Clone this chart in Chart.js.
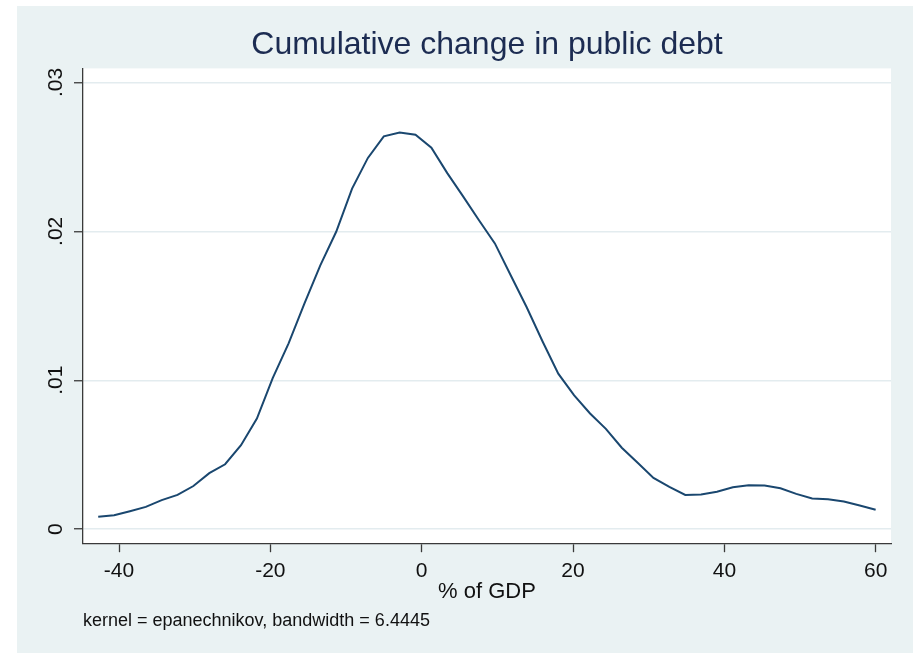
<!DOCTYPE html>
<html>
<head>
<meta charset="utf-8">
<script src="https://cdn.jsdelivr.net/npm/chart.js@4"></script>
<style>
  html, body { margin: 0; padding: 0; background: #ffffff; }
  #wrap { width: 913px; height: 653px; position: relative; }
</style>
</head>
<body>
<div id="wrap"><canvas id="c" width="913" height="653"></canvas></div>
<script>
// ---- data ----
const titleText = 'Cumulative change in public debt';
const xAxisTitle = '% of GDP';
const noteText = 'kernel = epanechnikov, bandwidth = 6.4445';

const gdpChange = [
  -42.75, -40.65, -38.56, -36.46, -34.36, -32.27, -30.17, -28.07, -25.98, -23.88,
  -21.78, -19.69, -17.59, -15.49, -13.40, -11.30, -9.20, -7.11, -5.01, -2.91,
  -0.82, 1.28, 3.38, 5.47, 7.57, 9.67, 11.76, 13.86, 15.96, 18.05,
  20.15, 22.25, 24.34, 26.44, 28.54, 30.63, 32.73, 34.83, 36.92, 39.02,
  41.12, 43.21, 45.31, 47.41, 49.50, 51.60, 53.70, 55.79, 57.89, 59.99
];
const density = [
  0.00083, 0.00094, 0.00121, 0.00150, 0.00195, 0.00230, 0.00290, 0.00376, 0.00436, 0.00564,
  0.00743, 0.01015, 0.01248, 0.01517, 0.01772, 0.01997, 0.02287, 0.02493, 0.02638, 0.02664,
  0.02649, 0.02562, 0.02391, 0.02235, 0.02074, 0.01919, 0.01705, 0.01492, 0.01262, 0.01044,
  0.00899, 0.00777, 0.00674, 0.00547, 0.00446, 0.00344, 0.00284, 0.00230, 0.00233, 0.00252,
  0.00282, 0.00295, 0.00293, 0.00275, 0.00237, 0.00206, 0.00201, 0.00186, 0.00159, 0.00130
];
const xTickValues = [-40, -20, 0, 20, 40, 60];
const yTickValues = [0, 0.01, 0.02, 0.03];
const yTickLabels = ['0', '.01', '.02', '.03'];

// ---- styling ----
const FONT = '"Liberation Sans", Arial, Helvetica, sans-serif';
const BG = '#eaf2f3';
const GRID = '#e3ecef';
const AXIS = '#3a3a3a';
const LINE = '#1a476f';

const bgPlugin = {
  id: 'bg',
  beforeDraw(chart) {
    const ctx = chart.ctx;
    const a = chart.chartArea;
    ctx.save();
    ctx.fillStyle = '#ffffff';
    ctx.fillRect(0, 0, chart.width, chart.height);
    ctx.fillStyle = BG;
    ctx.fillRect(17, 6, chart.width - 17, chart.height - 6);
    ctx.fillStyle = '#ffffff';
    ctx.fillRect(a.left, a.top, a.right - a.left, a.bottom - a.top);
    ctx.restore();
  }
};

const points = gdpChange.map((x, i) => ({ x: x, y: density[i] }));

new Chart(document.getElementById('c'), {
  type: 'line',
  data: {
    datasets: [{
      data: points,
      borderColor: LINE,
      borderWidth: 2,
      pointRadius: 0,
      tension: 0,
      fill: false
    }]
  },
  options: {
    responsive: false,
    animation: false,
    layout: { padding: { left: 83, right: 22, top: 6, bottom: 0 } },
    plugins: {
      legend: { display: false },
      tooltip: { enabled: false },
      title: {
        display: true,
        text: titleText,
        color: '#1c2c52',
        font: { family: FONT, size: 32, weight: 'normal' },
        padding: { top: 20, bottom: 4 }
      },
      subtitle: {
        display: true,
        position: 'bottom',
        align: 'start',
        text: noteText,
        color: '#111111',
        font: { family: FONT, size: 18, weight: 'normal' },
        padding: { top: 0, bottom: 21 }
      }
    },
    scales: {
      x: {
        type: 'linear',
        min: -44.76,
        max: 62.02,
        afterBuildTicks: s => { s.ticks = xTickValues.map(v => ({ value: v })); },
        afterFit: s => { s.height = 67.2; },
        border: { display: true, color: AXIS, width: 1.3 },
        grid: { drawOnChartArea: false, drawTicks: true, tickLength: 9, tickColor: AXIS, tickWidth: 1.3 },
        ticks: {
          color: '#111111',
          font: { family: FONT, size: 21 },
          padding: 6,
          maxRotation: 0,
          minRotation: 0,
          callback: v => String(v)
        },
        title: {
          display: true,
          text: xAxisTitle,
          color: '#111111',
          font: { family: FONT, size: 22 },
          padding: { top: 0, bottom: 5 }
        }
      },
      y: {
        type: 'linear',
        min: -0.00094,
        max: 0.03094,
        afterBuildTicks: s => { s.ticks = yTickValues.map(v => ({ value: v })); },
        afterFit: s => { s.width = 0; },
        border: { display: true, color: AXIS, width: 1.3 },
        grid: { drawOnChartArea: true, color: GRID, lineWidth: 1.5, drawTicks: true, tickLength: 9, tickColor: AXIS, tickWidth: 1.3 },
        ticks: {
          color: '#111111',
          font: { family: FONT, size: 21 },
          mirror: true,
          padding: -41.6,
          crossAlign: 'center',
          minRotation: 90,
          maxRotation: 90,
          callback: v => { const i = yTickValues.indexOf(v); return i >= 0 ? yTickLabels[i] : ''; }
        }
      }
    }
  },
  plugins: [bgPlugin]
});
</script>
</body>
</html>
